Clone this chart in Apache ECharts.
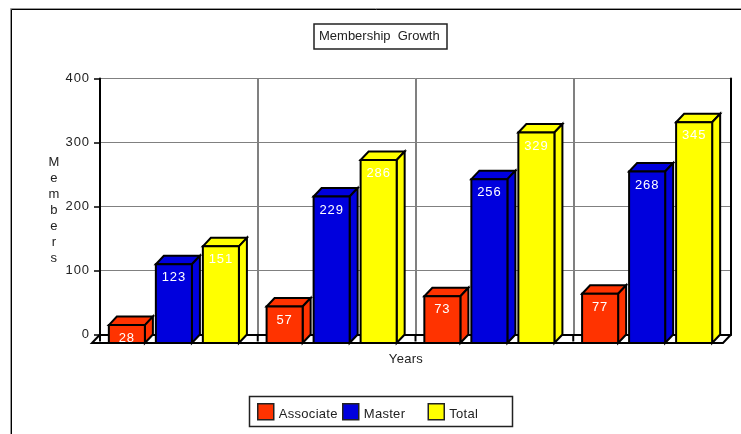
<!DOCTYPE html>
<html>
<head>
<meta charset="utf-8">
<style>html,body{margin:0;padding:0;background:#fff}#c{width:741px;height:434px}</style>
<script src="https://cdn.jsdelivr.net/npm/echarts@6/dist/echarts.min.js"></script>
</head>
<body>
<div id="c"></div>
<script>
const categories = ['1', '2', '3', '4'];
const seriesNames = ['Associate', 'Master', 'Total'];
const associate = [28, 57, 73, 77];
const master = [123, 229, 256, 268];
const total = [151, 286, 329, 345];
const yTicks = [0, 100, 200, 300, 400];
const colors = ['#ff3300', '#0000dd', '#ffff00'];
const titleText = 'Membership  Growth';
const xName = 'Years';
const yName = 'Members';

// The original chart's text is letter-spaced; ECharts has no option for it.
const origFill = CanvasRenderingContext2D.prototype.fillText;
CanvasRenderingContext2D.prototype.fillText = function (t, x, y, m) {
  const s = String(t);
  this.letterSpacing = /^\d+$/.test(s) ? '0.9px' : s === titleText ? '0px' : '0.3px';
  return m === undefined ? origFill.call(this, t, x, y) : origFill.call(this, t, x, y, m);
};

const FONT = '"Liberation Sans", Arial, sans-serif';
const DX = 8, DY = 8.5;

function barItem(k, color) {
  return function (params, api) {
    const c = api.coord([api.value(0), api.value(1)]);
    const zero = api.coord([api.value(0), 0]);
    const band = api.size([1, 0])[0];
    const w = band * 0.2285, pitch = band * 0.298;
    const l = c[0] - 5 + (k - 1) * pitch - w / 2, r = l + w;
    const top = c[1] + DY, base = zero[1] + DY;
    const st = { fill: color, stroke: '#000', lineWidth: 2, lineJoin: 'miter' };
    return { type: 'group', children: [
      { type: 'polygon', shape: { points: [[l, top], [l + DX, top - DY], [r + DX, top - DY], [r, top]] }, style: st },
      { type: 'polygon', shape: { points: [[r, top], [r + DX, top - DY], [r + DX, base - DY], [r, base]] }, style: st },
      { type: 'rect', shape: { x: l, y: top, width: w, height: base - top }, style: st },
      { type: 'text', x: (l + r) / 2, y: top + 13.5, style: { text: String(api.value(1)), fill: '#fff', font: '13px ' + FONT, align: 'center', verticalAlign: 'middle' } }
    ] };
  };
}

function floorItem(params, api) {
  const band = api.size([1, 0])[0];
  const y0 = api.coord([0, 0])[1];
  const left = api.coord([0, 0])[0] - band / 2, right = left + band * categories.length;
  const line = { stroke: '#000', lineWidth: 2, fill: null };
  const kids = [
    { type: 'polyline', shape: { points: [[left, y0], [left - DX, y0 + DY], [right - DX, y0 + DY], [right, y0]] }, style: line }
  ];
  categories.forEach(function (_, i) {
    const x = left + band * i;
    kids.push({ type: 'line', shape: { x1: x, y1: y0, x2: x, y2: y0 + 7 }, style: line });
  });
  return { type: 'group', children: kids };
}

const legendLefts = [257, 342, 427.5];

const chart = echarts.init(document.getElementById('c'), null, { renderer: 'canvas' });
chart.setOption({
  animation: false,
  backgroundColor: '#fff',
  title: [{
    text: titleText, left: 314, top: 24,
    padding: [6, 8, 6, 5], borderWidth: 1.5, borderColor: '#222', backgroundColor: '#fff',
    textStyle: { fontFamily: FONT, fontSize: 13, fontWeight: 'normal', color: '#222', lineHeight: 13 }
  }, {
    text: yName.split('').join('\n'), left: 54, top: 154, textAlign: 'center', padding: 0,
    textStyle: { fontFamily: FONT, fontSize: 13, fontWeight: 'normal', color: '#222', lineHeight: 16 }
  }],
  legend: seriesNames.map(function (n, i) {
    return {
      left: legendLefts[i], top: 403, padding: 0, itemWidth: 16, itemHeight: 16, itemGap: 0, itemTextGap: 2, z: 6,
      selectedMode: false,
      data: [{ name: n, icon: 'rect', itemStyle: { color: colors[i], borderColor: '#222', borderWidth: 1.5 } }],
      formatter: function (name) { return '{a|' + name + '}'; },
      textStyle: { fontFamily: FONT, fontSize: 13, color: '#222', rich: { a: { fontFamily: FONT, fontSize: 13, color: '#222', padding: [6, 0, 0, 0] } } }
    };
  }),
  grid: { left: 100, right: 10, top: 78.5, bottom: 99.5 },
  xAxis: {
    type: 'category', data: categories, boundaryGap: true,
    name: xName, nameLocation: 'middle', nameGap: 18,
    nameTextStyle: { fontFamily: FONT, fontSize: 13, color: '#222', padding: [0, 19, 0, 0] },
    axisLine: { lineStyle: { color: '#000', width: 2 } },
    axisTick: { show: false }, axisLabel: { show: false },
    splitLine: { show: true, lineStyle: { color: '#808080', width: 2 } }
  },
  yAxis: [{
    type: 'value', min: yTicks[0], max: yTicks[yTicks.length - 1], interval: yTicks[1] - yTicks[0],
    axisLine: { show: true, lineStyle: { color: '#000', width: 2 } },
    axisTick: { show: true, length: 6, lineStyle: { color: '#000', width: 1.5 } },
    axisLabel: { fontFamily: FONT, fontSize: 13, color: '#222', margin: 10 },
    splitLine: { show: true, lineStyle: { color: '#808080', width: 1 } }
  }, {
    type: 'value', position: 'right', min: yTicks[0], max: yTicks[yTicks.length - 1], interval: yTicks[1] - yTicks[0],
    axisLine: { show: true, lineStyle: { color: '#000', width: 2 } },
    axisTick: { show: false }, axisLabel: { show: false }, splitLine: { show: false }
  }],
  graphic: [
    { type: 'polyline', silent: true, shape: { points: [[10.5, 434], [10.5, 8.5], [741, 8.5]] }, style: { stroke: '#999', lineWidth: 1, fill: null } },
    { type: 'polyline', silent: true, shape: { points: [[11.5, 434], [11.5, 9.5], [741, 9.5]] }, style: { stroke: '#000', lineWidth: 1, fill: null } },
    { type: 'rect', silent: true, z: 1, shape: { x: 249.5, y: 396.5, width: 263, height: 30 }, style: { fill: '#fff', stroke: '#222', lineWidth: 1.5 } }
  ],
  series: [
    { type: 'custom', name: 'floor', renderItem: floorItem, data: [[0, 0]], clip: false, silent: true, z: 3, encode: { x: 0, y: 1 } }
  ].concat([associate, master, total].map(function (vals, k) {
    return {
      type: 'custom', name: seriesNames[k], clip: false, silent: true, z: 5,
      renderItem: barItem(k, colors[k]),
      itemStyle: { color: colors[k] },
      encode: { x: 0, y: 1 },
      data: vals.map(function (v, i) { return [i, v]; })
    };
  }))
});
</script>
</body>
</html>
